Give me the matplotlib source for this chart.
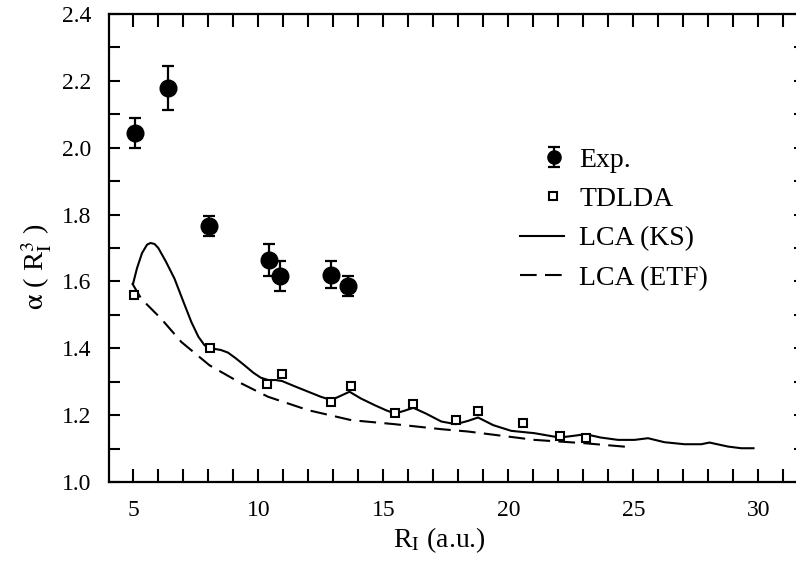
import matplotlib
matplotlib.use("Agg")
import matplotlib.pyplot as plt
from matplotlib.lines import Line2D
from matplotlib.legend_handler import HandlerErrorbar, HandlerLine2D

plt.rcParams["font.family"] = ["Liberation Serif", "DejaVu Serif"]
plt.rcParams["mathtext.fontset"] = "stix"

# Experimental static polarizabilities with error bars
exp_r = [5.05, 6.37, 8.01, 10.43, 10.87, 12.91, 13.60]
exp_alpha = [2.045, 2.179, 1.766, 1.664, 1.617, 1.620, 1.586]
exp_err = [0.045, 0.066, 0.030, 0.048, 0.045, 0.040, 0.030]

# TDLDA results
tdlda_r = [5.01, 8.05, 10.36, 10.93, 12.92, 13.69, 15.45, 16.20, 17.90,
           18.79, 20.59, 22.05, 23.09]
tdlda_alpha = [1.558, 1.401, 1.293, 1.322, 1.240, 1.288, 1.205, 1.232,
               1.186, 1.213, 1.176, 1.139, 1.133]

# LCA with Kohn-Sham densities
ks_r = [4.99, 5.15, 5.35, 5.55, 5.69, 5.85, 6.00, 6.30, 6.65, 7.00, 7.32,
        7.60, 7.85, 8.10, 8.50, 8.79, 9.10, 9.45, 9.80, 10.10, 10.40, 10.70,
        10.95, 11.50, 12.00, 12.50, 12.92, 13.30, 13.65, 14.10, 14.65, 15.10,
        15.45, 15.80, 16.20, 16.70, 17.32, 17.90, 18.40, 18.79, 19.40, 20.12,
        21.05, 22.05, 22.60, 23.09, 23.70, 24.39, 25.05, 25.59, 26.25, 27.05,
        27.72, 28.05, 28.79, 29.32, 29.81]
ks_alpha = [1.593, 1.640, 1.685, 1.710, 1.715, 1.712, 1.700, 1.660, 1.608,
            1.540, 1.479, 1.435, 1.409, 1.400, 1.395, 1.387, 1.370, 1.349,
            1.327, 1.312, 1.305, 1.305, 1.302, 1.285, 1.270, 1.255, 1.245,
            1.258, 1.270, 1.250, 1.230, 1.215, 1.205, 1.212, 1.222, 1.205,
            1.181, 1.173, 1.183, 1.193, 1.170, 1.153, 1.146, 1.133, 1.138,
            1.143, 1.133, 1.126, 1.126, 1.131, 1.119, 1.113, 1.113, 1.118,
            1.106, 1.101, 1.101]

# LCA with extended Thomas-Fermi densities
etf_r = [4.95, 5.32, 6.12, 6.92, 8.05, 9.32, 10.39, 11.99, 13.72, 15.45,
         17.32, 18.39, 21.05, 23.05, 24.92]
etf_alpha = [1.595, 1.548, 1.488, 1.419, 1.349, 1.295, 1.255, 1.215, 1.185,
             1.173, 1.158, 1.151, 1.126, 1.116, 1.104]

# tick marks at every unit / every 0.1, labels on a subset
x_tick_pos = list(range(5, 32))
x_tick_lab = [str(v) if v % 5 == 0 else "" for v in x_tick_pos]
y_tick_pos = [round(1.0 + 0.1 * i, 1) for i in range(15)]
y_tick_lab = [f"{v:.1f}" if i % 2 == 0 else "" for i, v in enumerate(y_tick_pos)]

W, H = 796, 561
fig = plt.figure(figsize=(W / 100, H / 100), dpi=100)
left, right, top, bottom = 109.3, 805.0, 14.0, 482.0
ax = fig.add_axes([left / W, 1 - bottom / H, (right - left) / W, (bottom - top) / H])

ks_line, = ax.plot(ks_r, ks_alpha, color="black", lw=1.5, label="LCA (KS)", zorder=2)
etf_line, = ax.plot(etf_r, etf_alpha, color="black", lw=1.5, dashes=(8, 4),
                    label="LCA (ETF)", zorder=2)
tdlda_pts, = ax.plot(tdlda_r, tdlda_alpha, ls="none", marker="s", ms=6.3,
                     mfc="white", mec="black", mew=1.5, label="TDLDA", zorder=3)
exp_pts = ax.errorbar(exp_r, exp_alpha, yerr=exp_err, fmt="o", color="black",
                      ms=12, elinewidth=1.6, capsize=4.6, capthick=1.6,
                      label="Exp.", zorder=4)

ax.set_xlim(4.04, 31.87)
ax.set_ylim(1.0, 2.4)
ax.set_xticks(x_tick_pos, x_tick_lab)
ax.set_yticks(y_tick_pos, y_tick_lab)

for s in ax.spines.values():
    s.set_linewidth(1.6)
ax.tick_params(direction="in", top=True, right=True, width=1.5, color="black")
ax.tick_params(axis="x", length=9.5, pad=13, labelsize=17)
ax.tick_params(axis="y", length=7.8, pad=13, labelsize=17)

ax.set_xlabel(r"R$_{\mathrm{I}}$ (a.u.)", fontsize=20)
ax.xaxis.set_label_coords(0.474, -0.093)
ax.set_ylabel(r"$\mathrm{\alpha}$ ( R$^{3}_{\mathrm{I}}$ )", fontsize=20.5)
ax.yaxis.set_label_coords(-0.08, 0.46)


class ShiftedErrorbar(HandlerErrorbar):
    def get_xdata(self, legend, xdescent, ydescent, width, height, fontsize):
        xdata, _ = super().get_xdata(legend, xdescent, ydescent, width, height, fontsize)
        return xdata, [-xdescent + 0.78 * width]

    def create_artists(self, *args, **kwargs):
        artists = super().create_artists(*args, **kwargs)
        for a in artists:
            if isinstance(a, Line2D) and a.get_marker() == "o":
                a.set_markersize(9.5)
        return artists


class ShiftedMarker(HandlerLine2D):
    # a single marker sits at the middle of the returned span
    def get_xdata(self, legend, xdescent, ydescent, width, height, fontsize):
        xdata = [-xdescent + 0.48 * width, -xdescent + width]
        return xdata, [-xdescent + 0.74 * width]


ax.legend([exp_pts, tdlda_pts, ks_line, etf_line],
          ["Exp.", "TDLDA", "LCA (KS)", "LCA (ETF)"],
          handler_map={exp_pts: ShiftedErrorbar(yerr_size=0.36),
                       tdlda_pts: ShiftedMarker()},
          loc="center left", bbox_to_anchor=(0.590, 0.562), frameon=False,
          fontsize=20, handlelength=1.6, handletextpad=0.55, labelspacing=0.5,
          borderpad=0, borderaxespad=0, numpoints=1)

fig.savefig("out.png", dpi=100)
